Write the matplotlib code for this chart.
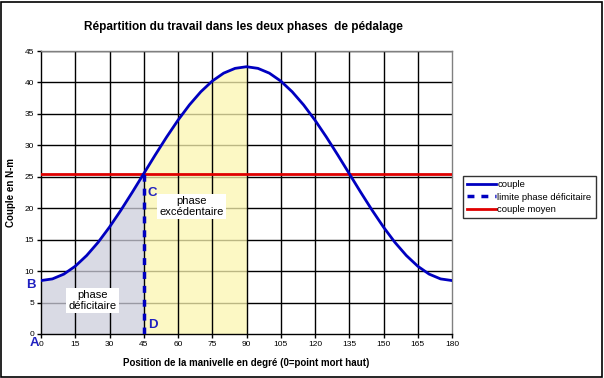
import matplotlib
matplotlib.use("Agg")
import matplotlib.pyplot as plt
from matplotlib.patches import Rectangle
import numpy as np

# Data
angle = [0, 5, 10, 15, 20, 25, 30, 35, 40, 45, 50, 55, 60, 65, 70, 75, 80, 85, 90,
         95, 100, 105, 110, 115, 120, 125, 130, 135, 140, 145, 150, 155, 160, 165, 170, 175, 180]
couple = [8.5, 8.76, 9.52, 10.78, 12.48, 14.57, 17.0, 19.69, 22.55, 25.5, 28.45, 31.31, 34.0,
          36.43, 38.52, 40.22, 41.48, 42.24, 42.5, 42.24, 41.48, 40.22, 38.52, 36.43, 34.0,
          31.31, 28.45, 25.5, 22.55, 19.69, 17.0, 14.57, 12.48, 10.78, 9.52, 8.76, 8.5]
couple_moyen = 25.5
limite_x = 45
xticks = list(range(0, 181, 15))
yticks = list(range(0, 46, 5))

plt.rcParams['font.family'] = ['Liberation Sans', 'DejaVu Sans']

fig = plt.figure(figsize=(6.04, 3.78), dpi=100)
ax = fig.add_axes([41/604, 1-334/378, (452-41)/604, (334-51)/378])

ang = np.array(angle)
cp = np.array(couple)

# grid
for y in yticks[1:]:
    ax.axhline(y, color='black', lw=1.0, zorder=1)
for x in xticks[1:-1]:
    ax.axvline(x, color='black', lw=1.0, zorder=2.5)

# shaded areas
m1 = ang <= limite_x
ax.fill_between(ang[m1], 0, cp[m1], color='#cdcedb', alpha=0.75, lw=0, zorder=2)
m2 = (ang >= limite_x) & (ang <= 90)
ax.fill_between(ang[m2], 0, cp[m2], color='#fbf6b0', alpha=0.75, lw=0, zorder=2)

# lines
l1, = ax.plot(ang, cp, color='#0000c0', lw=2, zorder=4, label='couple')
l2, = ax.plot([limite_x, limite_x], [0, couple_moyen], color='#0000c0', lw=2.5,
              ls=(0, (2, 2)), zorder=4, label='limite phase déficitaire')
l3, = ax.plot([0, 180], [couple_moyen, couple_moyen], color='#e00000', lw=2,
              zorder=3, label='couple moyen')

ax.set_xlim(0, 180)
ax.set_ylim(0, 45)
ax.set_xticks(xticks)
ax.set_yticks(yticks)
ax.tick_params(labelsize=6, length=3, width=1, pad=2, colors='black')
for s in ['top', 'right']:
    ax.spines[s].set_color('#808080')
    ax.spines[s].set_linewidth(1)
for s in ['left', 'bottom']:
    ax.spines[s].set_color('black')
    ax.spines[s].set_linewidth(1)

ax.set_xlabel('Position de la manivelle en degré (0=point mort haut)', fontsize=7,
              fontweight='bold', labelpad=7)
ax.set_ylabel('Couple en N-m', fontsize=7, fontweight='bold', labelpad=6)

fig.text(243/604, 1-27/378, 'Répartition du travail dans les deux phases  de pédalage',
         ha='center', va='center', fontsize=8.5, fontweight='bold')

# annotations
ax.text(22.5, 5.3, 'phase\ndéficitaire', ha='center', va='center', fontsize=8,
        bbox=dict(facecolor='white', edgecolor='none', pad=1.5), zorder=5, linespacing=1.1)
ax.text(66, 20.3, 'phase\nexcédentaire', ha='center', va='center', fontsize=8,
        bbox=dict(facecolor='white', edgecolor='none', pad=1.5), zorder=5, linespacing=1.1)

lc = '#2020c0'
fig.text(34/604, 1-343/378, 'A', color=lc, fontsize=9.5, fontweight='bold', ha='center', va='center')
fig.text(31/604, 1-285/378, 'B', color=lc, fontsize=9.5, fontweight='bold', ha='center', va='center')
fig.text(152/604, 1-193/378, 'C', color=lc, fontsize=9.5, fontweight='bold', ha='center', va='center')
fig.text(153/604, 1-325/378, 'D', color=lc, fontsize=9.5, fontweight='bold', ha='center', va='center')

leg = fig.legend(handles=[l1, l2, l3], loc='upper left',
                 bbox_to_anchor=(463/604, 1-176/378), fontsize=6.8, frameon=True,
                 fancybox=False, edgecolor='black', handlelength=3.0, borderpad=0.45,
                 labelspacing=0.35, handletextpad=0.2, borderaxespad=0)
leg.get_frame().set_linewidth(1)

fig.patches.append(Rectangle((1/604, 1/378), 601/604, 375/378, transform=fig.transFigure,
                             fill=False, edgecolor='black', lw=1.2))

fig.savefig('out.png', dpi=100)
